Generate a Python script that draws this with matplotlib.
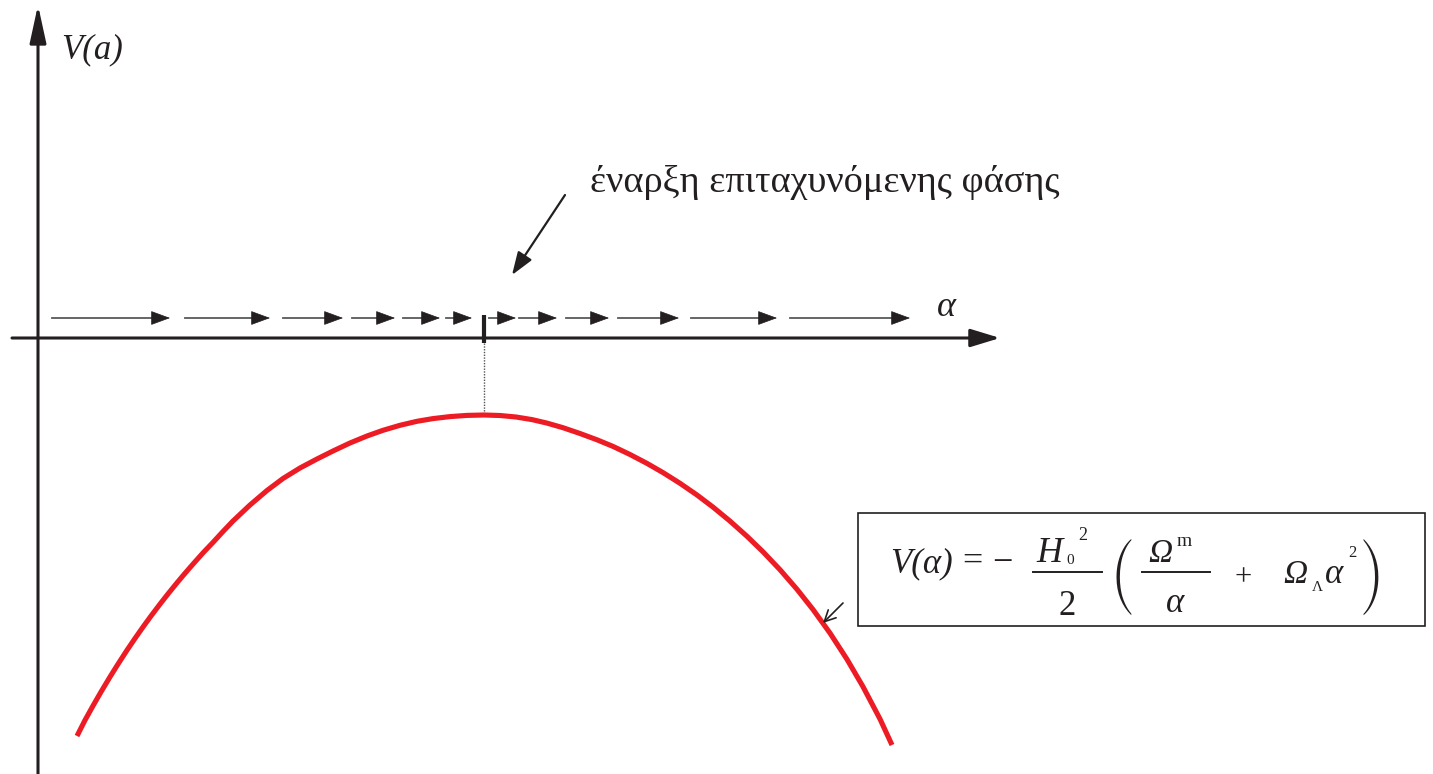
import numpy as np
import matplotlib
matplotlib.use("Agg")
from matplotlib import pyplot as plt

plt.rcParams['font.family'] = ['Liberation Serif', 'DejaVu Serif']

# red potential curve (pixel-like coords, y grows down)
curve_x = [77, 85, 93, 101, 110, 118, 127, 135, 143, 151, 160, 168, 177, 185,
           193, 203, 213, 223, 233, 250, 267, 283, 300, 317, 333, 350, 367, 383,
           400, 417, 433, 450, 467, 484, 500, 516, 532, 547, 563, 580, 597, 613,
           630, 647, 663, 680, 697, 713, 730, 747, 763, 780, 797, 813, 830, 847,
           863, 880, 892]
curve_y = [736, 720.2, 705.8, 691.9, 676.9, 664.1, 650.2, 638.4, 627, 616, 604.1,
           593.9, 582.8, 573.3, 564.1, 552.9, 542.4, 531.5, 521, 505, 490.5, 478.5,
           468, 459, 451, 443, 436, 430.3, 425.3, 421.3, 418.6, 416.6, 415.4, 415,
           415.5, 417, 419.6, 423.1, 427.7, 433.5, 439.8, 446.4, 454.5, 463.4,
           472.6, 483.3, 495, 507.1, 521.1, 536.3, 551.8, 569.7, 589.3, 609.5,
           633.1, 659.3, 686.7, 719, 745]

# small arrows along the a-axis: start of shaft, tip
flow_start = [52, 185, 283, 352, 403, 446, 489, 519, 566, 618, 691, 790]
flow_tip = [170, 270, 343, 395, 440, 472, 516, 557, 609, 679, 777, 910]
flow_y = 318

peak_x = 484
axis_y = 338
axis_x = 38

label_V = "V(a)"
label_a = "α"
label_phase = "έναρξη επιταχυνόμενης φάσης"

fig = plt.figure(figsize=(14.33, 7.74), dpi=100)
ax = fig.add_axes([0, 0, 1, 1])
ax.set_xlim(0, 1433)
ax.set_ylim(774, 0)
ax.axis('off')

dark = '#231f20'

# axes with arrow heads
ax.annotate('', xy=(axis_x, 5), xytext=(axis_x, 774),
            arrowprops=dict(arrowstyle='-|>,head_length=23,head_width=5',
                            mutation_scale=1, lw=2.2, color=dark,
                            shrinkA=0, shrinkB=0))
ax.annotate('', xy=(1000, axis_y), xytext=(12, axis_y),
            arrowprops=dict(arrowstyle='-|>,head_length=18,head_width=5.5',
                            mutation_scale=1, lw=2.2, color=dark,
                            shrinkA=0, shrinkB=0))

# flow arrows
for s, t in zip(flow_start, flow_tip):
    ax.plot([s, t - 12], [flow_y, flow_y], color='#58595b', lw=1.3)
    ax.annotate('', xy=(t, flow_y), xytext=(t - 16, flow_y),
                arrowprops=dict(arrowstyle='-|>,head_length=12.5,head_width=4.6',
                                mutation_scale=1, lw=0.5, color=dark,
                                shrinkA=0, shrinkB=0))

# tick at start of acceleration + dotted drop line
ax.plot([peak_x, peak_x], [315, 343], color=dark, lw=3, solid_capstyle='butt')
ax.plot([peak_x, peak_x], [343, 414], color='#555555', lw=1, ls=(0, (1, 1)))

# curve
ax.plot(curve_x, curve_y, color='#ed1c24', lw=3.7, solid_capstyle='butt')

# labels
ax.text(61, 50, label_V, fontsize=25, style='italic', ha='left', va='center',
        color=dark)
ax.text(946, 308, label_a, fontsize=26, style='italic', ha='center', va='center',
        color=dark)
ax.text(590, 183, label_phase, fontsize=27.5, ha='left', va='center', color=dark)
ax.annotate('', xy=(512, 275), xytext=(565, 195),
            arrowprops=dict(arrowstyle='-|>,head_length=14,head_width=5',
                            mutation_scale=1, lw=1.6, color=dark,
                            shrinkA=0, shrinkB=0))

# formula box
ax.add_patch(plt.Rectangle((858, 513), 567, 113, fill=False, ec=dark, lw=1.2))
it = dict(style='italic', color=dark, va='baseline')
rm = dict(color=dark, va='baseline')
ax.text(890, 572, 'V(α)', fontsize=25, ha='left', **it)
ax.text(962, 571, '=', fontsize=26, ha='left', **rm)
ax.text(992, 572, '−', fontsize=26, ha='left', **rm)
# H0^2 / 2
ax.plot([1033, 1102], [572, 572], color=dark, lw=1.4)
ax.text(1036, 562, 'H', fontsize=26, ha='left', **it)
ax.text(1066, 564, '0', fontsize=11, ha='left', **rm)
ax.text(1078, 540, '2', fontsize=13, ha='left', **rm)
ax.text(1067.5, 615, '2', fontsize=25, ha='center', **rm)
# parentheses
paren = dict(family=['STIXSizeThreeSym', 'DejaVu Sans'], fontsize=22, color=dark,
             ha='center', va='center')
ax.text(1122, 577, '(', **paren)
ax.text(1372, 577, ')', **paren)
# Omega_m / alpha
ax.plot([1142, 1210], [572, 572], color=dark, lw=1.4)
ax.text(1148, 562, 'Ω', fontsize=24, ha='left', **it)
ax.text(1177, 546, 'm', fontsize=14, ha='left', **rm)
ax.text(1175, 612, 'α', fontsize=25, ha='center', **it)
ax.text(1243, 585, '+', fontsize=22, ha='center', **rm)
# Omega_Lambda alpha^2
ax.text(1283, 583, 'Ω', fontsize=24, ha='left', **it)
ax.text(1312, 591, 'Λ', fontsize=11, ha='left', **rm)
ax.text(1325, 583, 'α', fontsize=25, ha='left', **it)
ax.text(1348, 557, '2', fontsize=12, ha='left', **rm)

ax.annotate('', xy=(823, 623), xytext=(843, 603),
            arrowprops=dict(arrowstyle='->,head_length=8,head_width=4',
                            mutation_scale=1, lw=1.2, color=dark,
                            shrinkA=0, shrinkB=0))

fig.savefig('out.png', dpi=100)
